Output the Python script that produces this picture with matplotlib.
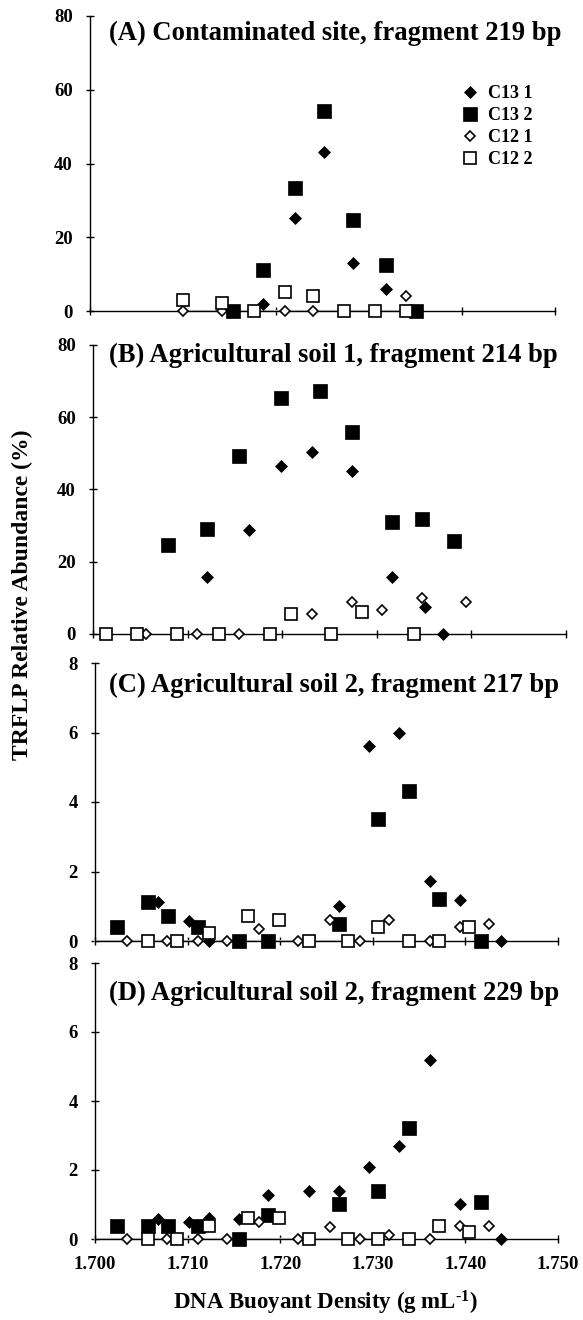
import matplotlib
matplotlib.use("Agg")
import matplotlib.pyplot as plt

plt.rcParams['font.family'] = ['Liberation Serif', 'DejaVu Serif']
plt.rcParams['font.weight'] = 'bold'
plt.rcParams['mathtext.fontset'] = 'custom'
plt.rcParams['mathtext.rm'] = 'Liberation Serif:bold'
plt.rcParams['mathtext.bf'] = 'Liberation Serif:bold'
plt.rcParams['mathtext.default'] = 'bf'

# --- data ---
SERIES = ['C13 1', 'C13 2', 'C12 1', 'C12 2']
TITLES = ['(A) Contaminated site, fragment 219 bp',
          '(B) Agricultural soil 1, fragment 214 bp',
          '(C) Agricultural soil 2, fragment 217 bp',
          '(D) Agricultural soil 2, fragment 229 bp']
X_TICKS = [1.700, 1.710, 1.720, 1.730, 1.740, 1.750]
Y_TICKS_AB = [0, 20, 40, 60, 80]
Y_TICKS_CD = [0, 2, 4, 6, 8]

A_C13_1_X = [1.7186, 1.7220, 1.7252, 1.7283, 1.7318]
A_C13_1_Y = [1.9, 25.1, 43.2, 13.1, 6.1]
A_C13_2_X = [1.7154, 1.7186, 1.7220, 1.7252, 1.7283, 1.7318, 1.7351]
A_C13_2_Y = [0, 11.1, 33.3, 54.2, 24.7, 12.5, 0]
A_C12_1_X = [1.7100, 1.7142, 1.7210, 1.7240, 1.7340]
A_C12_1_Y = [0, 0, 0, 0, 4.1]
A_C12_2_X = [1.7100, 1.7142, 1.7176, 1.7210, 1.7240, 1.7273, 1.7306, 1.7340]
A_C12_2_Y = [3.0, 2.1, 0, 5.1, 4.1, 0, 0, 0]

B_C13_1_X = [1.7120, 1.7165, 1.7199, 1.7231, 1.7274, 1.7316, 1.7351, 1.7370]
B_C13_1_Y = [15.9, 28.7, 46.6, 50.3, 45.2, 15.9, 7.6, 0]
B_C13_2_X = [1.7079, 1.7120, 1.7154, 1.7199, 1.7240, 1.7274, 1.7316, 1.7348, 1.7382]
B_C13_2_Y = [24.6, 29.2, 49.3, 65.2, 67.3, 55.9, 30.9, 31.8, 25.7]
B_C12_1_X = [1.7056, 1.7110, 1.7154, 1.7231, 1.7274, 1.7305, 1.7348, 1.7394]
B_C12_1_Y = [0, 0, 0, 5.6, 8.8, 6.6, 9.9, 8.8]
B_C12_2_X = [1.7014, 1.7046, 1.7089, 1.7133, 1.7187, 1.7209, 1.7252, 1.7284, 1.7339]
B_C12_2_Y = [0, 0, 0, 0, 0, 5.6, 0, 6.2, 0]

C_C13_1_X = [1.7068, 1.7101, 1.7123, 1.7264, 1.7296, 1.7328, 1.7362, 1.7394, 1.7438]
C_C13_1_Y = [1.12, 0.57, 0, 1.02, 5.60, 5.98, 1.72, 1.19, 0]
C_C13_2_X = [1.7024, 1.7057, 1.7079, 1.7111, 1.7155, 1.7187, 1.7264, 1.7306, 1.7339, 1.7372, 1.7417]
C_C13_2_Y = [0.39, 1.12, 0.72, 0.39, 0, 0, 0.49, 3.52, 4.33, 1.20, 0]
C_C12_1_X = [1.7035, 1.7078, 1.7111, 1.7143, 1.7177, 1.7219, 1.7254, 1.7286, 1.7318, 1.7362, 1.7394, 1.7426]
C_C12_1_Y = [0, 0, 0, 0, 0.34, 0, 0.60, 0, 0.60, 0, 0.39, 0.49]
C_C12_2_X = [1.7057, 1.7089, 1.7123, 1.7165, 1.7199, 1.7231, 1.7273, 1.7306, 1.7339, 1.7372, 1.7404]
C_C12_2_Y = [0, 0, 0.22, 0.72, 0.60, 0, 0, 0.39, 0, 0, 0.39]

D_C13_1_X = [1.7068, 1.7101, 1.7123, 1.7155, 1.7187, 1.7231, 1.7264, 1.7296, 1.7328, 1.7362, 1.7394, 1.7438]
D_C13_1_Y = [0.58, 0.48, 0.61, 0.58, 1.28, 1.40, 1.40, 2.08, 2.70, 5.19, 1.01, 0]
D_C13_2_X = [1.7024, 1.7057, 1.7079, 1.7111, 1.7155, 1.7187, 1.7264, 1.7306, 1.7339, 1.7417]
D_C13_2_Y = [0.39, 0.39, 0.39, 0.39, 0, 0.69, 1.01, 1.40, 3.21, 1.08]
D_C12_1_X = [1.7035, 1.7078, 1.7111, 1.7143, 1.7177, 1.7219, 1.7254, 1.7286, 1.7318, 1.7362, 1.7394, 1.7426]
D_C12_1_Y = [0, 0, 0, 0, 0.48, 0, 0.34, 0, 0.12, 0, 0.39, 0.39]
D_C12_2_X = [1.7057, 1.7089, 1.7123, 1.7165, 1.7199, 1.7231, 1.7273, 1.7306, 1.7339, 1.7372, 1.7404]
D_C12_2_Y = [0, 0, 0.39, 0.60, 0.60, 0, 0, 0, 0, 0.39, 0.19]

PANELS = [
    [(A_C13_1_X, A_C13_1_Y), (A_C13_2_X, A_C13_2_Y), (A_C12_1_X, A_C12_1_Y), (A_C12_2_X, A_C12_2_Y)],
    [(B_C13_1_X, B_C13_1_Y), (B_C13_2_X, B_C13_2_Y), (B_C12_1_X, B_C12_1_Y), (B_C12_2_X, B_C12_2_Y)],
    [(C_C13_1_X, C_C13_1_Y), (C_C13_2_X, C_C13_2_Y), (C_C12_1_X, C_C12_1_Y), (C_C12_2_X, C_C12_2_Y)],
    [(D_C13_1_X, D_C13_1_Y), (D_C13_2_X, D_C13_2_Y), (D_C12_1_X, D_C12_1_Y), (D_C12_2_X, D_C12_2_Y)],
]

# --- layout (pixels of a 583x1320 canvas) ---
W, H = 583, 1320
# left, right, y of top, y of zero line
BOXES = [(90, 555, 16, 311), (93, 566, 345, 634), (95, 558, 663, 941), (95, 558, 963, 1239)]
TITLE_POS = [(0.041, 0.942), (0.034, 0.965), (0.030, 0.921), (0.030, 0.891)]
GRAY_ZERO = [(1.7097, 1.7348), None, (1.700, 1.7297), (1.700, 1.7300)]

STYLES = [
    dict(marker='D', ms=6.2, mfc='black', mec='black', mew=0.5),
    dict(marker='s', ms=9.4, mfc='black', mec='black', mew=0.5),
    dict(marker='D', ms=5.0, mfc='white', mec='black', mew=1.2),
    dict(marker='s', ms=8.4, mfc='white', mec='black', mew=1.2),
]


def make_axes(fig, box):
    left, right, top, zero = box
    return fig.add_axes([left / W, 1 - zero / H, (right - left) / W, (zero - top) / H])


def draw_panel(ax, idx):
    for (xs, ys), name, st in zip(PANELS[idx], SERIES, STYLES):
        ax.plot(xs, ys, linestyle='none', label=name, clip_on=False, zorder=3, **st)
    ax.set_xlim(1.700, 1.750)
    if idx < 2:
        ax.set_ylim(0, 80)
        ax.set_yticks(Y_TICKS_AB)
    else:
        ax.set_ylim(0, 8)
        ax.set_yticks(Y_TICKS_CD)
    ax.set_xticks(X_TICKS)
    if idx == 3:
        ax.set_xticklabels(['%.3f' % t for t in X_TICKS])
    else:
        ax.set_xticklabels([])
    for s in ['top', 'right']:
        ax.spines[s].set_visible(False)
    for s in ['left', 'bottom']:
        ax.spines[s].set_linewidth(1.0)
    ax.tick_params(axis='both', direction='inout', length=6, width=1.0, labelsize=13.5)
    ax.tick_params(axis='y', pad=9.5)
    ax.tick_params(axis='x', pad=9)
    ax.patch.set_alpha(0)
    if GRAY_ZERO[idx] is not None:
        g0, g1 = GRAY_ZERO[idx]
        ax.plot([g0, g1], [0, 0], color='#cccccc', lw=1.6, zorder=2.5, clip_on=False)
    tx, ty = TITLE_POS[idx]
    ax.text(tx, ty, TITLES[idx], transform=ax.transAxes, fontsize=19.2,
            fontweight='bold', ha='left', va='center')
    if idx == 0:
        ax.legend(loc='upper left', bbox_to_anchor=((463 - 90) / 465, (311 - 85) / 295),
                  frameon=False, fontsize=13, handlelength=0.8, handletextpad=0.6,
                  labelspacing=0.28, borderpad=0, borderaxespad=0)


fig = plt.figure(figsize=(W / 100, H / 100), dpi=100)
for i, box in enumerate(BOXES):
    ax = make_axes(fig, box)
    draw_panel(ax, i)

fig.text(22 / W, 1 - 595 / H, 'TRFLP Relative Abundance (%)', rotation=90,
         fontsize=17, fontweight='bold', ha='center', va='center')
fig.text(325 / W, 1 - 1303 / H, 'DNA Buoyant Density (g mL$^{\\text{-1}}$)',
         fontsize=16.5, fontweight='bold', ha='center', va='center')

fig.savefig('out.png', dpi=100)
